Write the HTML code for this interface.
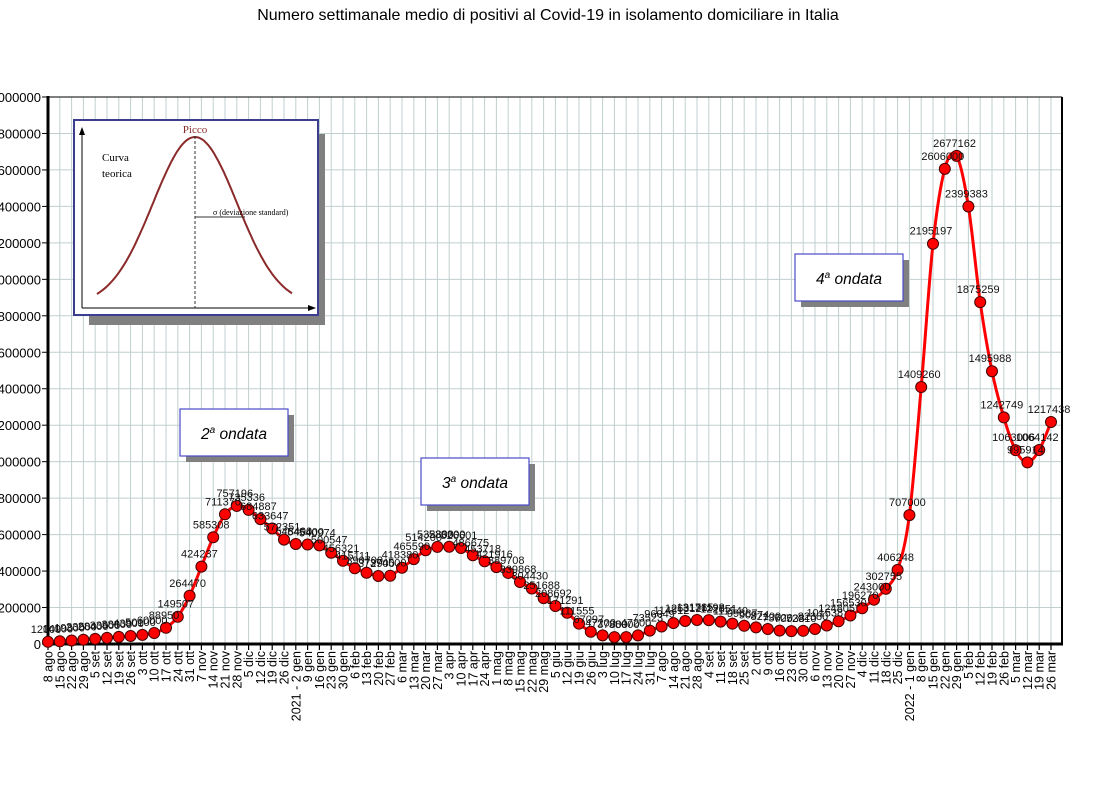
<!DOCTYPE html>
<html><head><meta charset="utf-8">
<style>
html,body{margin:0;padding:0;background:#fff;}
svg{display:block;font-family:"Liberation Sans",Arial,sans-serif;}
</style></head>
<body>
<svg id="chart" width="1095" height="805" viewBox="0 0 1095 805">
<text x="548" y="20" text-anchor="middle" font-size="16">Numero settimanale medio di positivi al Covid-19  in isolamento domiciliare in Italia</text>
<g id="grid"></g>
<g id="axes"></g>
<g id="inset">
  <rect x="89" y="134" width="236" height="191" fill="#808080"/>
  <rect x="74" y="120" width="244" height="195" fill="#fff" stroke="#3c3c90" stroke-width="2"/>
  <line x1="82" y1="308" x2="310" y2="308" stroke="#000" stroke-width="1"/>
  <polygon points="316,308 308,305 308,311" fill="#000"/>
  <line x1="82" y1="308" x2="82" y2="133" stroke="#000" stroke-width="1"/>
  <polygon points="82,127 79,135 85,135" fill="#000"/>
  <path id="gauss" fill="none" stroke="#8b2a2a" stroke-width="2"/>
  <line x1="195" y1="136" x2="195" y2="308" stroke="#333" stroke-width="1" stroke-dasharray="3,2"/>
  <line x1="195" y1="217" x2="245" y2="217" stroke="#333" stroke-width="1"/>
  <text x="195" y="133" text-anchor="middle" font-family="Liberation Serif,serif" font-size="11" fill="#8b2a2a">Picco</text>
  <text x="102" y="161" font-family="Liberation Serif,serif" font-size="11">Curva</text>
  <text x="102" y="177" font-family="Liberation Serif,serif" font-size="11">teorica</text>
  <text x="213" y="215" font-family="Liberation Serif,serif" font-size="8">σ  (deviazione standard)</text>
</g>
<g id="marks"></g>
<g id="boxes"></g>
</svg>
<script>
const categories=["8 ago","15 ago","22 ago","29 ago","5 set","12 set","19 set","26 set","3 ott","10 ott","17 ott","24 ott","31 ott","7 nov","14 nov","21 nov","28 nov","5 dic","12 dic","19 dic","26 dic","2021 - 2 gen","9 gen","16 gen","23 gen","30 gen","6 feb","13 feb","20 feb","27 feb","6 mar","13 mar","20 mar","27 mar","3 apr","10 apr","17 apr","24 apr","1 mag","8 mag","15 mag","22 mag","29 mag","5 giu","12 giu","19 giu","26 giu","3 lug","10 lug","17 lug","24 lug","31 lug","7 ago","14 ago","21 ago","28 ago","4 set","11 set","18 set","25 set","2 ott","9 ott","16 ott","23 ott","30 ott","6 nov","13 nov","20 nov","27 nov","4 dic","11 dic","18 dic","25 dic","2022 - 1 gen","8 gen","15 gen","22 gen","29 gen","5 feb","12 feb","19 feb","26 feb","5 mar","12 mar","19 mar","26 mar"];
const values=[12000,14900,19300,23500,28400,33900,38800,43900,50100,60000,
88950,149507,264470,424237,585308,711370,757196,735336,684887,633647,
572351,548400,545400,540974,500547,456321,415111,390700,372900,374500,
418380,465590,514200,532800,533300,526601,486675,453718,421916,389708,
339868,304430,251688,208692,171291,111555,67097,47200,37800,38000,
47200,73523,96049,114812,126312,131785,131198,122851,111540,99887,
90974,82100,73620,70538,72310,82380,101538,124805,156530,196270,
243000,302755,406248,707000,1409260,2195197,2606000,2677162,2399383,1875259,
1495988,1242749,1063006,995914,1064142,1217438];
const yTicks=[0,200000,400000,600000,800000,1000000,1200000,1400000,1600000,1800000,2000000,2200000,2400000,2600000,2800000,3000000];
const annotations=[["2","ondata",180,409],["3","ondata",421,458],["4","ondata",795,254]];

const NS="http://www.w3.org/2000/svg";
const L=48,R=1062,T=97,B=644,X0=48,STEP=(1051-48)/85,YMAX=3000000;
const xs=i=>X0+i*STEP;
const ys=v=>B-(v/YMAX)*(B-T);
function mk(tag,attrs,parent){const e=document.createElementNS(NS,tag);for(const k in attrs)e.setAttribute(k,attrs[k]);parent.appendChild(e);return e;}
const grid=document.getElementById('grid'),axes=document.getElementById('axes'),marks=document.getElementById('marks'),boxes=document.getElementById('boxes');

for(let i=1;i<categories.length;i++){
  const g=mk('line',{x1:xs(i),y1:T,x2:xs(i),y2:B,stroke:'#c0cfd0','stroke-width':1},grid);
  
  
}
for(let x=xs(categories.length);x<R;x+=STEP){mk('line',{x1:x,y1:T,x2:x,y2:B,stroke:'#c0cfd0','stroke-width':1},grid);}
yTicks.forEach(v=>{
  const y=ys(v);
  if(v>0){const h=mk('line',{x1:L,y1:y,x2:R,y2:y,stroke:'#c0cfd0','stroke-width':1},grid);
  
  }
  mk('line',{x1:L-6,y1:y,x2:L,y2:y,stroke:'#000','stroke-width':1},axes);
  const t=mk('text',{x:L-7,y:y+5,'text-anchor':'end','font-size':13},axes);
  t.textContent=String(v);
  
  
});
mk('line',{x1:L,y1:T,x2:R,y2:T,stroke:'#000','stroke-width':1},axes);
mk('line',{x1:R,y1:T,x2:R,y2:B,stroke:'#000','stroke-width':2},axes);
mk('line',{x1:L,y1:T-1,x2:L,y2:B+1,stroke:'#000','stroke-width':3},axes);
mk('line',{x1:L-1,y1:B,x2:R+1,y2:B,stroke:'#000','stroke-width':3},axes);
categories.forEach((c,i)=>{
  const x=xs(i);
  mk('line',{x1:x,y1:B,x2:x,y2:B+6,stroke:'#000','stroke-width':1.2},axes);
  const t=mk('text',{x:0,y:0,'text-anchor':'end','font-size':12.5,transform:`translate(${x+4.5},${B+7}) rotate(-90)`},axes);
  t.textContent=c;
  
  
});

// gaussian inset curve (decorative)
(function(){let d='';for(let k=0;k<=100;k++){const x=97+k*(292-97)/100;const z=(x-195)/42;const y=305-(305-137)*Math.exp(-z*z/2);d+=(k?'L':'M')+x.toFixed(1)+','+y.toFixed(1);}document.getElementById('gauss').setAttribute('d',d);})();

// smooth line
const pts=values.map((v,i)=>[xs(i),ys(v)]);
let d='M'+pts[0][0]+','+pts[0][1];
for(let i=0;i<pts.length-1;i++){
  const p0=pts[Math.max(0,i-1)],p1=pts[i],p2=pts[i+1],p3=pts[Math.min(pts.length-1,i+2)];
  const c1x=p1[0]+(p2[0]-p0[0])/6,c1y=p1[1]+(p2[1]-p0[1])/6,c2x=p2[0]-(p3[0]-p1[0])/6,c2y=p2[1]-(p3[1]-p1[1])/6;
  d+=`C${c1x},${c1y} ${c2x},${c2y} ${p2[0]},${p2[1]}`;
}
const line=mk('path',{d:d,fill:'none',stroke:'#f00','stroke-width':3},marks);


values.forEach((v,i)=>{
  const c=mk('circle',{cx:xs(i),cy:ys(v),r:5.5,fill:'#f00',stroke:'#400','stroke-width':1},marks);
  
  
});
values.forEach((v,i)=>{
  const t=mk('text',{x:xs(i)-2,y:ys(v)-9,'text-anchor':'middle','font-size':11,fill:'#111'},marks);
  t.textContent=String(v);
  
  
});
annotations.forEach(a=>{
  const g=mk('g',{},boxes);
  
  
  mk('rect',{x:a[2]+6,y:a[3]+6,width:108,height:47,fill:'#808080'},g);
  mk('rect',{x:a[2],y:a[3],width:108,height:47,fill:'#fff',stroke:'#4a4ac8','stroke-width':1.2},g);
  const t=mk('text',{x:a[2]+54,y:a[3]+30,'text-anchor':'middle','font-size':15.5,'font-style':'italic'},g);
  const s1=mk('tspan',{},t);s1.textContent=a[0];
  const s2=mk('tspan',{'font-size':10,dy:-6},t);s2.textContent='a';
  const s3=mk('tspan',{dy:6},t);s3.textContent=' '+a[1];
});
</script>
</body></html>
